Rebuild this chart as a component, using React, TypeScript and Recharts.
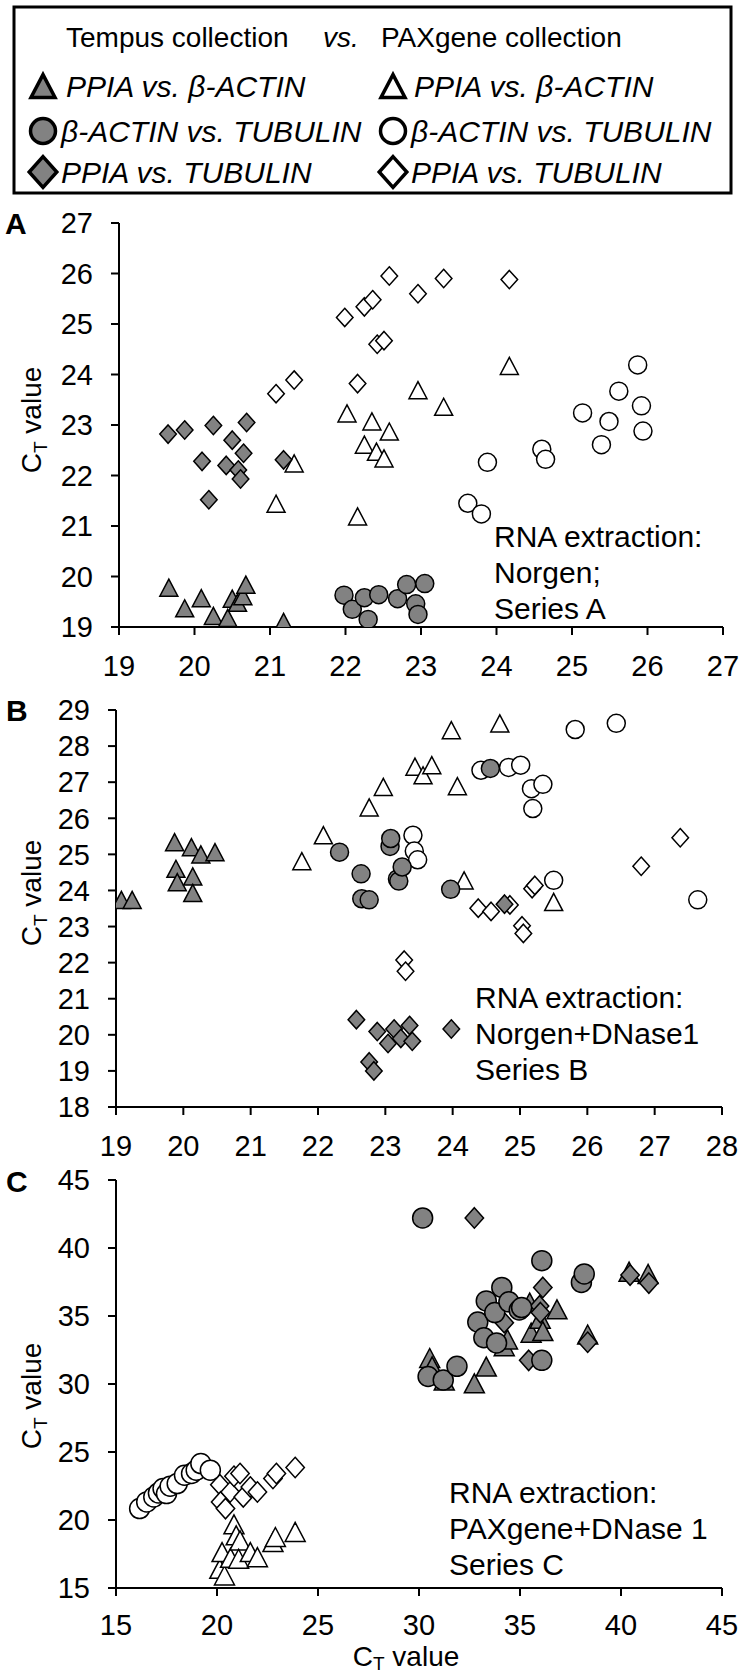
import { ScatterChart, Scatter, XAxis, YAxis } from "recharts";

type Pt = [number, number];

// ---- Panel A: Norgen, Series A ----
const aTempusPpiaActin: Pt[] = [
  [19.66, 19.78], [19.87, 19.37], [20.09, 19.57], [20.25, 19.22], [20.44, 19.18],
  [20.5, 19.56], [20.57, 19.48], [20.64, 19.61], [20.68, 19.84], [21.18, 19.1],
];
const aTempusActinTub: Pt[] = [
  [21.98, 19.63], [22.09, 19.35], [22.25, 19.58], [22.3, 19.15], [22.44, 19.64],
  [22.69, 19.56], [22.81, 19.84], [22.93, 19.46], [22.96, 19.25], [23.05, 19.86],
];
const aTempusPpiaTub: Pt[] = [
  [19.65, 22.82], [19.87, 22.9], [20.1, 22.28], [20.25, 22.99], [20.19, 21.52], [20.42, 22.2],
  [20.5, 22.7], [20.58, 22.11], [20.61, 21.93], [20.65, 22.44], [20.69, 23.05], [21.18, 22.31],
];
const aPaxPpiaActin: Pt[] = [
  [21.08, 21.44], [21.32, 22.24], [22.02, 23.23], [22.16, 21.19], [22.25, 22.61], [22.35, 23.07],
  [22.41, 22.47], [22.51, 22.34], [22.58, 22.87], [22.96, 23.69], [23.3, 23.36], [24.17, 24.17],
];
const aPaxActinTub: Pt[] = [
  [23.62, 21.45], [23.8, 21.24], [23.88, 22.26], [24.6, 22.52], [24.65, 22.32], [25.14, 23.24],
  [25.39, 22.61], [25.49, 23.07], [25.62, 23.67], [25.87, 24.19], [25.92, 23.38], [25.94, 22.88],
];
const aPaxPpiaTub: Pt[] = [
  [21.08, 23.62], [21.32, 23.89], [21.99, 25.13], [22.16, 23.82], [22.25, 25.34], [22.36, 25.48],
  [22.42, 24.6], [22.51, 24.67], [22.58, 25.95], [22.96, 25.6], [23.3, 25.9], [24.17, 25.88],
];

// ---- Panel B: Norgen+DNase1, Series B ----
const bTempusPpiaActin: Pt[] = [
  [19.08, 23.74], [19.24, 23.74], [19.87, 25.34], [19.89, 24.6], [19.91, 24.23],
  [20.12, 25.2], [20.14, 24.39], [20.14, 23.93], [20.26, 25.0], [20.47, 25.06],
];
const bTempusActinTub: Pt[] = [
  [22.32, 25.06], [22.64, 24.46], [22.65, 23.77], [22.76, 23.74], [23.07, 25.22], [23.08, 25.44],
  [23.18, 24.32], [23.2, 24.26], [23.25, 24.65], [23.97, 24.03], [24.56, 27.38],
];
const bTempusPpiaTub: Pt[] = [
  [22.57, 20.42], [22.76, 19.25], [22.83, 19.0], [22.88, 20.09], [23.04, 19.76], [23.13, 20.16],
  [23.23, 19.9], [23.36, 20.26], [23.4, 19.82], [23.98, 20.16], [24.77, 23.62],
];
const bPaxPpiaActin: Pt[] = [
  [21.76, 24.81], [22.08, 25.53], [22.76, 26.3], [22.97, 26.87], [23.44, 27.43], [23.56, 27.19],
  [23.69, 27.47], [23.98, 28.44], [24.07, 26.89], [24.17, 24.28], [24.7, 28.63], [25.5, 23.68],
];
const bPaxActinTub: Pt[] = [
  [23.41, 25.53], [23.43, 25.09], [23.48, 24.85], [24.42, 27.33], [24.83, 27.41], [25.01, 27.47],
  [25.17, 26.82], [25.19, 26.27], [25.34, 26.94], [25.5, 24.28], [25.82, 28.46], [26.43, 28.63],
  [27.64, 23.74],
];
const bPaxPpiaTub: Pt[] = [
  [23.28, 22.07], [23.3, 21.76], [24.38, 23.51], [24.57, 23.42], [24.85, 23.6], [25.03, 23.02],
  [25.05, 22.81], [25.18, 24.05], [25.22, 24.14], [26.8, 24.67], [27.38, 25.46],
];

// ---- Panel C: PAXgene+DNase 1, Series C ----
const cTempusPpiaActin: Pt[] = [
  [30.53, 31.91], [30.65, 31.3], [31.25, 30.25], [32.74, 30.05], [33.33, 31.28], [34.22, 32.78],
  [34.38, 33.28], [35.48, 35.99], [35.55, 33.77], [36.0, 34.8], [36.13, 33.89], [36.83, 35.49],
  [38.35, 33.64], [40.4, 38.26], [41.34, 38.09],
];
const cTempusActinTub: Pt[] = [
  [30.18, 42.21], [30.45, 30.55], [31.2, 30.3], [31.88, 31.3], [32.91, 34.56], [33.21, 33.4],
  [33.33, 36.11], [33.75, 35.25], [33.84, 33.02], [34.1, 37.1], [34.45, 36.04], [34.96, 35.44],
  [35.08, 35.62], [36.08, 39.07], [36.08, 31.74], [38.04, 37.47], [38.18, 38.09],
];
const cTempusPpiaTub: Pt[] = [
  [32.74, 42.21], [34.22, 34.51], [35.43, 31.74], [35.97, 35.74], [36.01, 35.25],
  [36.13, 37.1], [38.35, 33.07], [40.45, 38.01], [41.38, 37.42],
];
const cPaxPpiaActin: Pt[] = [
  [20.14, 16.41], [20.37, 15.92], [20.25, 17.64], [20.67, 17.22], [20.84, 19.68], [20.95, 18.87],
  [21.14, 18.5], [21.07, 17.15], [21.65, 17.64], [22.0, 17.27], [22.77, 18.38], [22.89, 18.75],
  [23.87, 19.12],
];
const cPaxActinTub: Pt[] = [
  [16.17, 20.84], [16.52, 21.33], [16.87, 21.7], [17.1, 21.99], [17.33, 22.31], [17.5, 21.94],
  [17.68, 22.48], [18.03, 22.68], [18.39, 23.29], [18.74, 23.42], [18.97, 23.66], [19.2, 24.15],
  [19.67, 23.66],
];
const cPaxPpiaTub: Pt[] = [
  [20.14, 22.6], [20.18, 21.33], [20.42, 20.84], [20.65, 22.06], [20.84, 23.22], [21.14, 23.42],
  [21.3, 21.7], [21.65, 22.43], [22.0, 22.06], [22.77, 23.05], [22.94, 23.42], [23.87, 23.86],
];

// axis ticks
const aTicks = [19, 20, 21, 22, 23, 24, 25, 26, 27];
const bXTicks = [19, 20, 21, 22, 23, 24, 25, 26, 27, 28];
const bYTicks = [18, 19, 20, 21, 22, 23, 24, 25, 26, 27, 28, 29];
const cTicks = [15, 20, 25, 30, 35, 40, 45];

const GREY = "#828282";
const FONT = "'Liberation Sans', Arial, Helvetica, sans-serif";

type Kind = "triangle" | "circle" | "diamond";

function marker(kind: Kind, cx: number, cy: number, s: number, fill: string, sw: number) {
  if (kind === "circle") {
    return <circle cx={cx} cy={cy} r={s / 2} fill={fill} stroke="#000" strokeWidth={sw} />;
  }
  if (kind === "triangle") {
    const h = s * 0.95;
    const pts = `${cx},${cy - h / 2} ${cx - s / 2},${cy + h / 2} ${cx + s / 2},${cy + h / 2}`;
    return <polygon points={pts} fill={fill} stroke="#000" strokeWidth={sw} strokeLinejoin="miter" />;
  }
  const w = s * 0.92;
  const h = s * 1.02;
  const pts = `${cx},${cy - h / 2} ${cx + w / 2},${cy} ${cx},${cy + h / 2} ${cx - w / 2},${cy}`;
  return <polygon points={pts} fill={fill} stroke="#000" strokeWidth={sw} />;
}

const shapeOf = (kind: Kind, fill: string, s: number) => (p: any) =>
  marker(kind, p.cx, p.cy, s, fill, 1.5);

const rows = (pts: Pt[]) => pts.map(([x, y]) => ({ x, y }));

interface Series {
  name: string;
  pts: Pt[];
  kind: Kind;
  fill: string;
}

// drawn in this order: PAXgene (white) first, Tempus (grey) on top
const series = (
  tpb: Pt[], tbt: Pt[], tpt: Pt[], ppb: Pt[], pbt: Pt[], ppt: Pt[]
): Series[] => [
  { name: "PAXgene PPIA vs. β-ACTIN", pts: ppb, kind: "triangle", fill: "#fff" },
  { name: "PAXgene PPIA vs. TUBULIN", pts: ppt, kind: "diamond", fill: "#fff" },
  { name: "PAXgene β-ACTIN vs. TUBULIN", pts: pbt, kind: "circle", fill: "#fff" },
  { name: "Tempus PPIA vs. β-ACTIN", pts: tpb, kind: "triangle", fill: GREY },
  { name: "Tempus PPIA vs. TUBULIN", pts: tpt, kind: "diamond", fill: GREY },
  { name: "Tempus β-ACTIN vs. TUBULIN", pts: tbt, kind: "circle", fill: GREY },
];

interface PanelProps {
  top: number;
  height: number;
  margin: { top: number; right: number; bottom: number; left: number };
  yWidth: number;
  xDomain: [number, number];
  xTicks: number[];
  yDomain: [number, number];
  yTicks: number[];
  data: Series[];
  size: number;
  xTickMargin?: number;
}

const axisStyle = { stroke: "#000", strokeWidth: 2 };

function Panel(p: PanelProps) {
  return (
    <div style={{ position: "absolute", left: 0, top: p.top, width: 743, height: p.height }}>
      <ScatterChart width={743} height={p.height} margin={p.margin}>
        <XAxis
          type="number"
          dataKey="x"
          domain={p.xDomain}
          ticks={p.xTicks}
          interval={0}
          height={50}
          axisLine={axisStyle}
          tickLine={axisStyle}
          tickSize={8}
          tickMargin={p.xTickMargin ?? 20}
          tick={{ fill: "#000", fontSize: 29 }}
          allowDataOverflow
        />
        <YAxis
          type="number"
          dataKey="y"
          domain={p.yDomain}
          ticks={p.yTicks}
          interval={0}
          width={p.yWidth}
          axisLine={axisStyle}
          tickLine={axisStyle}
          tickSize={8}
          tickMargin={18}
          tick={{ fill: "#000", fontSize: 29 }}
          allowDataOverflow
        />
        {p.data.map((s) => (
          <Scatter
            key={s.name}
            name={s.name}
            data={rows(s.pts)}
            shape={shapeOf(s.kind, s.fill, p.size)}
            isAnimationActive={false}
          />
        ))}
      </ScatterChart>
    </div>
  );
}

function YTitle({ x, y }: { x: number; y: number }) {
  return (
    <text transform={`translate(${x},${y}) rotate(-90)`} textAnchor="middle" fontSize={28}>
      C<tspan fontSize={19} dy={6}>T</tspan>
      <tspan dy={-6}> value</tspan>
    </text>
  );
}

function Note({ x, y, lines }: { x: number; y: number; lines: string[] }) {
  return (
    <>
      {lines.map((l, i) => (
        <text key={l} x={x} y={y + i * 36} fontSize={30}>
          {l}
        </text>
      ))}
    </>
  );
}

const legendRows: { kind: Kind; label: string; y: number }[] = [
  { kind: "triangle", label: "PPIA vs. β-ACTIN", y: 97 },
  { kind: "circle", label: "β-ACTIN vs. TUBULIN", y: 142 },
  { kind: "diamond", label: "PPIA vs. TUBULIN", y: 183 },
];

function Legend() {
  const sizes: Record<Kind, number> = { triangle: 24, circle: 25, diamond: 30 };
  return (
    <g>
      <rect x={14} y={7} width={717} height={186} fill="#fff" stroke="#000" strokeWidth={3} />
      <text x={66} y={47} fontSize={28}>Tempus collection</text>
      <text x={323} y={47} fontSize={28} fontStyle="italic">vs.</text>
      <text x={381} y={47} fontSize={28}>PAXgene collection</text>
      {legendRows.map((r) => (
        <g key={r.label}>
          {marker(r.kind, 43, r.y - 11, sizes[r.kind], GREY, 3.5)}
          <text x={r.kind === "triangle" ? 66 : 61} y={r.y} fontSize={30} fontStyle="italic">
            {r.label}
          </text>
          {marker(r.kind, 393, r.y - 11, sizes[r.kind], "#fff", 3.5)}
          <text x={r.kind === "triangle" ? 414 : 411} y={r.y} fontSize={30} fontStyle="italic">
            {r.label}
          </text>
        </g>
      ))}
    </g>
  );
}

export default function App() {
  return (
    <div
      style={{
        position: "absolute",
        left: 0,
        top: 0,
        width: 743,
        height: 1676,
        background: "#fff",
        fontFamily: FONT,
        overflow: "hidden",
      }}
    >
      <Panel
        top={190}
        height={510}
        margin={{ top: 33, right: 20, bottom: 23, left: 0 }}
        yWidth={119}
        xDomain={[19, 27]}
        xTicks={aTicks}
        yDomain={[19, 27]}
        yTicks={aTicks}
        data={series(aTempusPpiaActin, aTempusActinTub, aTempusPpiaTub, aPaxPpiaActin, aPaxActinTub, aPaxPpiaTub)}
        size={18}
      />
      <Panel
        top={690}
        height={485}
        margin={{ top: 20, right: 21, bottom: 18, left: 0 }}
        yWidth={116}
        xDomain={[19, 28]}
        xTicks={bXTicks}
        yDomain={[18, 29]}
        yTicks={bYTicks}
        data={series(bTempusPpiaActin, bTempusActinTub, bTempusPpiaTub, bPaxPpiaActin, bPaxActinTub, bPaxPpiaTub)}
        size={18}
      />
      <Panel
        top={1160}
        height={516}
        margin={{ top: 20, right: 21, bottom: 38, left: 0 }}
        yWidth={116}
        xDomain={[15, 45]}
        xTicks={cTicks}
        yDomain={[15, 45]}
        yTicks={cTicks}
        data={series(cTempusPpiaActin, cTempusActinTub, cTempusPpiaTub, cPaxPpiaActin, cPaxActinTub, cPaxPpiaTub)}
        size={20}
        xTickMargin={18}
      />
      <svg
        width={743}
        height={1676}
        style={{ position: "absolute", left: 0, top: 0, pointerEvents: "none" }}
      >
        <Legend />
        <text x={5} y={234} fontSize={30} fontWeight="bold">A</text>
        <text x={6} y={721} fontSize={30} fontWeight="bold">B</text>
        <text x={6} y={1192} fontSize={30} fontWeight="bold">C</text>
        <YTitle x={41} y={420} />
        <YTitle x={41} y={893} />
        <YTitle x={41} y={1396} />
        <Note x={494} y={547} lines={["RNA extraction:", "Norgen;", "Series A"]} />
        <Note x={475} y={1008} lines={["RNA extraction:", "Norgen+DNase1", "Series B"]} />
        <Note x={449} y={1503} lines={["RNA extraction:", "PAXgene+DNase 1", "Series C"]} />
        <text x={406} y={1666} textAnchor="middle" fontSize={28}>
          C<tspan fontSize={19} dy={4}>T</tspan>
          <tspan dy={-4}> value</tspan>
        </text>
      </svg>
    </div>
  );
}
